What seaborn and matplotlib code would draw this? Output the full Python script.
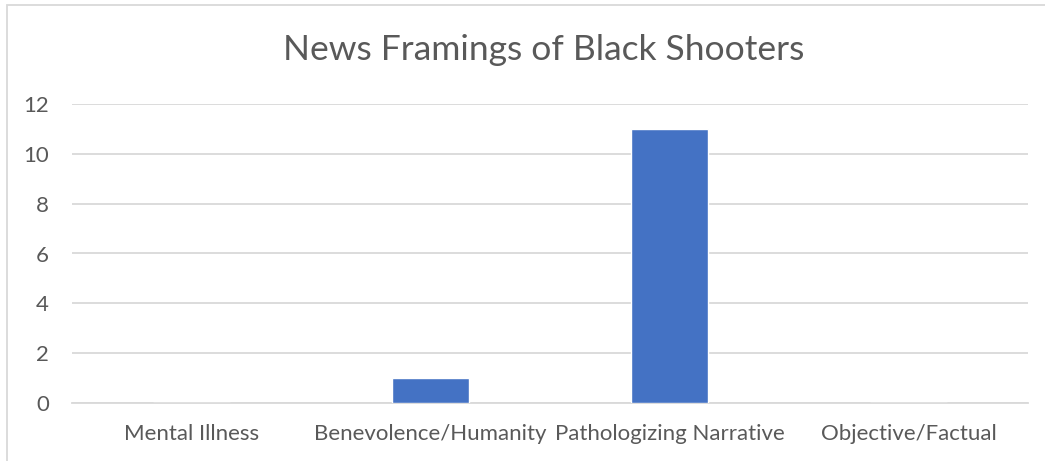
import matplotlib
matplotlib.use("Agg")
import matplotlib.pyplot as plt
import seaborn as sns
import pandas as pd

categories = ["Mental Illness", "Benevolence/Humanity", "Pathologizing Narrative", "Objective/Factual"]
counts = [0, 1, 11, 0]
y_ticks = [0, 2, 4, 6, 8, 10, 12]
title = "News Framings of Black Shooters"

df = pd.DataFrame({"framing": categories, "count": counts})

sns.set_theme(style="white")
plt.rcParams["font.family"] = ["Lato", "DejaVu Sans"]

text_color = "#595959"
grid_color = "#d9d9d9"
bar_color = "#4472C4"

fig = plt.figure(figsize=(10.45, 4.61), dpi=100)
ax = fig.add_axes([72 / 1045, 1 - 403 / 461, (1028 - 72) / 1045, (403 - 104) / 461])

sns.barplot(data=df, x="framing", y="count", color=bar_color, width=0.318,
            saturation=1, ax=ax, zorder=3)

ax.set_ylim(0, 12)
ax.set_xlim(-0.5, len(categories) - 0.5)
ax.set_yticks(y_ticks)
ax.set_yticklabels([str(t) for t in y_ticks])
ax.yaxis.grid(True, color=grid_color, linewidth=1.3, zorder=0)
ax.set_axisbelow(True)
for side in ["top", "right", "left"]:
    ax.spines[side].set_visible(False)
ax.spines["bottom"].set_color(grid_color)
ax.spines["bottom"].set_linewidth(1.3)
ax.tick_params(axis="both", length=0, labelsize=16, colors=text_color)
ax.tick_params(axis="y", pad=16.5)
ax.tick_params(axis="x", pad=15)
for lbl in ax.get_yticklabels():
    lbl.set_horizontalalignment("right")
ax.set_xlabel("")
ax.set_ylabel("")

fig.text(544 / 1045, 1 - 50 / 461, title, ha="center", va="center",
         fontsize=25.5, color=text_color)

# chart frame (top and left edges)
frame = plt.Rectangle((7 / 1045, -0.5), 2.0, 1.5 - 5 / 461,
                      transform=fig.transFigure, fill=False,
                      edgecolor=grid_color, linewidth=1.3)
fig.add_artist(frame)

fig.savefig("out.png", dpi=100, facecolor="white")
